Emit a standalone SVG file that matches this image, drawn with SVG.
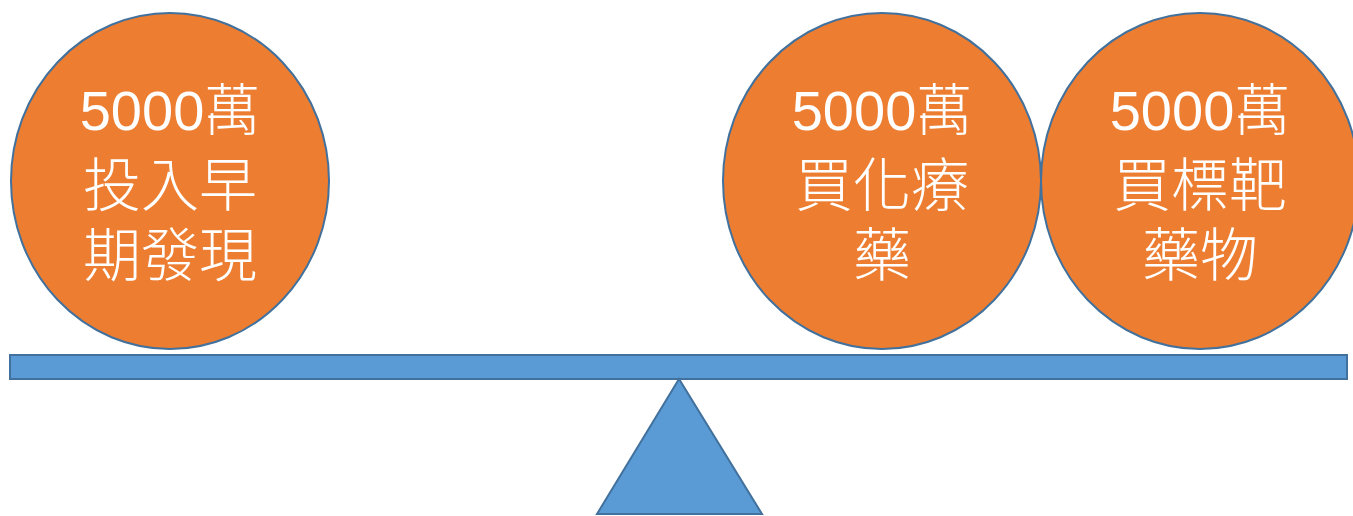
<svg xmlns="http://www.w3.org/2000/svg" width="1353" height="516" viewBox="0 0 1353 516">
<style>
.ball{fill:#ED7D31;stroke:#41719C;stroke-width:2}
.blue{fill:#5B9BD5;stroke:#41719C;stroke-width:2}
.t{fill:#FFFFFF;font-family:"Liberation Sans","Noto Sans CJK TC",sans-serif;font-size:56px;font-weight:300;text-anchor:middle}
.c{font-size:58px}
</style>
<rect width="1353" height="516" fill="#FFFFFF"/>
<g id="beam"><rect class="blue" x="10" y="355" width="1337" height="24"/></g>
<g id="fulcrum"><polygon class="blue" points="679,379 597,514 762,514"/></g>
<g id="ball-left">
<ellipse class="ball" cx="170" cy="181" rx="159" ry="168"/>
<text class="t" x="170" y="130">5000萬</text>
<text class="t c" x="170" y="206">投入早</text>
<text class="t c" x="170" y="276">期發現</text>
</g>
<g id="ball-middle">
<ellipse class="ball" cx="882" cy="181" rx="159" ry="168"/>
<text class="t" x="882" y="130">5000萬</text>
<text class="t c" x="882" y="206">買化療</text>
<text class="t c" x="882" y="276">藥</text>
</g>
<g id="ball-right">
<ellipse class="ball" cx="1200" cy="181" rx="159" ry="168"/>
<text class="t" x="1200" y="130">5000萬</text>
<text class="t c" x="1200" y="206">買標靶</text>
<text class="t c" x="1200" y="276">藥物</text>
</g>
<g id="connectors"/>
</svg>
